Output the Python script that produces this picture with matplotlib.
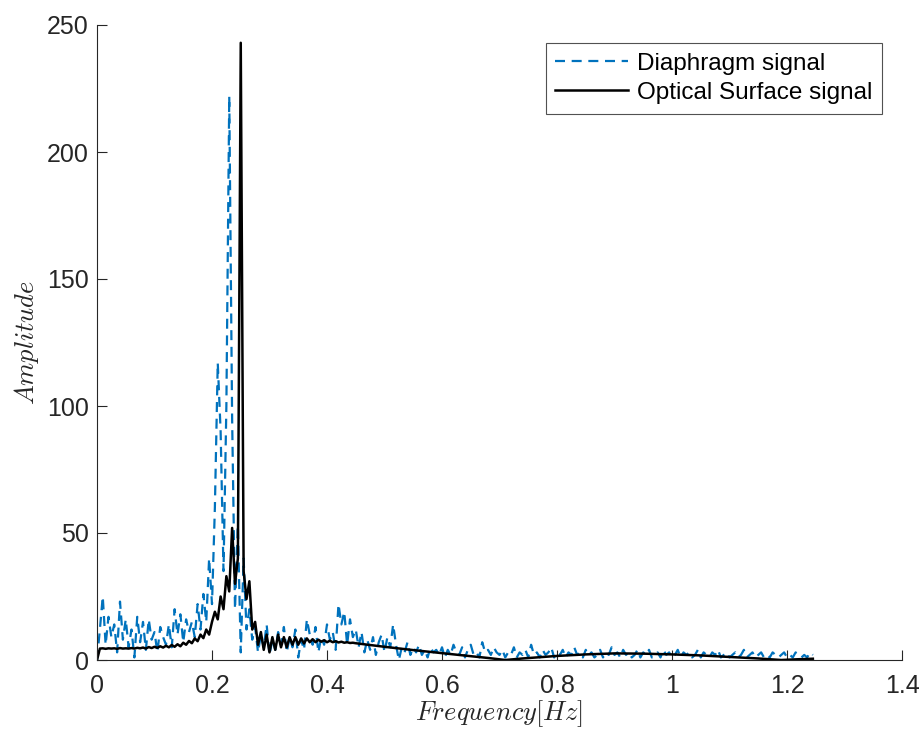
import numpy as np
import matplotlib
matplotlib.use('Agg')
import matplotlib.pyplot as plt

# frequency bins of the diaphragm spectrum (0.005 Hz apart)
step = 0.005
diaphragm = [
    0, 12, 25, 6, 17, 9, 14, 3, 23, 8,
    16, 5, 12, 1, 17, 7, 15, 4, 16, 8,
    11, 3, 13, 9, 6, 14, 5, 20, 10, 18,
    7, 16, 11, 15, 9, 22, 12, 26, 15, 40,
    22, 60, 117, 90, 35, 100, 222, 95, 20, 53,
    3, 40, 12, 20, 8, 13, 3, 10, 5, 14,
    2, 8, 4, 11, 6, 13, 3, 9, 5, 12,
    1, 8, 4, 16, 10, 6, 13, 3, 9, 6,
    14, 8, 11, 4, 22, 14, 19, 6, 16, 9,
    12, 5, 11, 3, 8, 4, 9, 2, 7, 10,
    3, 9, 5, 14, 6, 0, 5, 3, 7, 2,
    5, 3, 6, 2, 4, 1, 5, 3, 4, 2,
    5, 1, 4, 2, 6, 3, 2, 5, 1, 4,
    6, 2, 3, 1, 7, 3, 4, 2, 5, 3,
    2, 4, 1, 3, 2, 5, 1, 3, 2, 4,
    1, 6, 2, 3, 1, 4, 2, 3, 5, 1,
    3, 2, 4, 1, 3, 2, 5, 2, 3, 1,
    4, 2, 3, 1, 2, 4, 1, 3, 2, 5,
    2, 3, 1, 4, 2, 3, 1, 2, 4, 1,
    3, 2, 4, 1, 2, 3, 1, 4, 2, 3,
    1, 2, 4, 1, 3, 2, 3, 1, 2, 4,
    1, 3, 2, 1, 3, 2, 4, 1, 2, 3,
    1, 2, 3, 1, 2, 4, 1, 2, 3, 1,
    2, 3, 1, 2, 1, 3, 2, 1, 2, 3,
    1, 2, 1, 3, 2, 1, 2, 1, 3, 2,
]
freq_diaphragm = np.arange(len(diaphragm)) * step

# optical surface: dense part on the same bins up to 0.45 Hz ...
optical_dense = [
    0, 4.5, 4.6, 4.4, 4.6, 4.5, 4.6, 4.4, 4.7, 4.5,
    4.6, 4.5, 4.7, 4.5, 4.8, 4.6, 4.9, 4.5, 5.1, 4.7,
    5.2, 4.8, 5.4, 4.9, 5.6, 5.0, 5.9, 5.2, 6.2, 5.4,
    6.8, 6.0, 7.5, 6.6, 8.5, 7.4, 10, 8.6, 12, 10,
    15, 19, 16, 25, 20, 33, 27, 52, 30, 40,
    243, 35, 24, 31, 12, 15, 6, 11, 4, 10,
    3, 9, 4, 10, 5, 9, 5, 9, 6, 9,
    6, 8.5, 6.5, 8.5, 7, 8.2, 7, 8, 7.2, 7.8,
    7.0, 7.6, 7.0, 7.4, 6.9, 7.2, 6.8, 7.0, 6.7, 6.8,
    6.6,
]
freq_optical_dense = np.arange(len(optical_dense)) * step

# ... and the smooth tail
freq_optical_tail = [0.5, 0.55, 0.6, 0.65, 0.68, 0.71, 0.74, 0.8, 0.85, 0.9,
                     0.95, 1.0, 1.05, 1.1, 1.15, 1.19, 1.22, 1.245]
optical_tail = [5.2, 3.9, 2.7, 1.5, 0.8, 0.0, 0.6, 1.6, 2.2, 2.6,
                2.5, 2.2, 1.8, 1.2, 0.6, 0.0, 0.3, 0.5]

freq_optical = np.concatenate([freq_optical_dense, freq_optical_tail])
optical = np.concatenate([optical_dense, optical_tail])

plt.rcParams['font.family'] = ['Liberation Sans', 'DejaVu Sans']
plt.rcParams['mathtext.fontset'] = 'cm'

fig = plt.figure(figsize=(9.21, 7.29), dpi=100)
ax = fig.add_axes([97 / 921, 69 / 729, 805 / 921, 635 / 729])

ax.plot(freq_diaphragm, diaphragm, '--', color='#0072BD', lw=1.6,
        dashes=(4.5, 3), label='Diaphragm signal')
ax.plot(freq_optical, optical, '-', color='black', lw=1.8,
        label='Optical Surface signal')

ax.set_xlim(0, 1.4)
ax.set_ylim(0, 250)
ax.set_xticks([0, 0.2, 0.4, 0.6, 0.8, 1, 1.2, 1.4])
ax.set_xticklabels(['0', '0.2', '0.4', '0.6', '0.8', '1', '1.2', '1.4'])
ax.set_yticks([0, 50, 100, 150, 200, 250])

for s in ['top', 'right']:
    ax.spines[s].set_visible(False)
for s in ['left', 'bottom']:
    ax.spines[s].set_color('#262626')
    ax.spines[s].set_linewidth(0.8)
ax.tick_params(direction='in', length=7, width=0.8, colors='#262626',
               labelsize=18)
ax.tick_params(axis='x', pad=10)
ax.tick_params(axis='y', pad=6)

ax.set_xlabel(r'$Frequency[Hz]$', fontsize=19, labelpad=0, color='#262626')
ax.set_ylabel(r'$Amplitude$', fontsize=19, labelpad=4, color='#262626')

leg = ax.legend(loc='upper right', bbox_to_anchor=(0.975, 0.972), fontsize=17.5,
                frameon=True, fancybox=False, edgecolor='#262626',
                handlelength=3.0, borderpad=0.4, labelspacing=0.3,
                handletextpad=0.35, borderaxespad=0)
leg.get_frame().set_linewidth(0.8)

fig.savefig('out.png', dpi=100)
